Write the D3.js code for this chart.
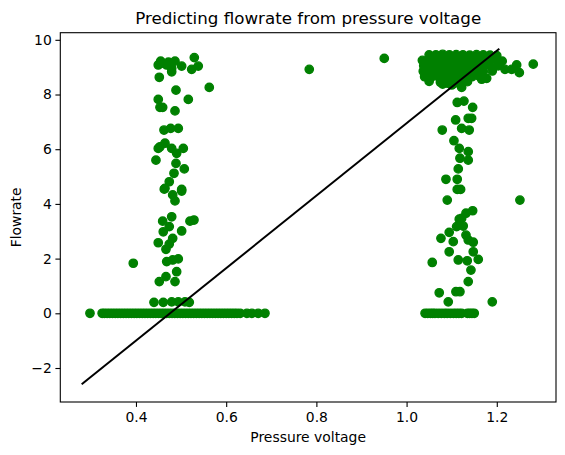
<!DOCTYPE html>
<html>
<head>
<meta charset="utf-8">
<script src="https://cdn.jsdelivr.net/npm/d3@7"></script>
<style>
  body { margin: 0; background: #fff; }
  text { font-family: "DejaVu Sans", sans-serif; fill: #000; }
</style>
</head>
<body>
<div id="chart"></div>
<script>
// flowrate = 0 rows, only the voltage varies
var leftBaselineX = [0.298, 0.325, 0.33, 0.336, 0.342, 0.348, 0.354, 0.36, 0.366, 0.372,
    0.378, 0.384, 0.39, 0.396, 0.402, 0.408, 0.414, 0.42, 0.426, 0.432, 0.438, 0.444,
    0.45, 0.456, 0.462, 0.468, 0.474, 0.48, 0.486, 0.492, 0.498, 0.504, 0.51, 0.516,
    0.522, 0.528, 0.534, 0.54, 0.546, 0.552, 0.558, 0.564, 0.57, 0.576, 0.582, 0.588,
    0.594, 0.60, 0.606, 0.612, 0.618, 0.624, 0.631, 0.646, 0.657, 0.671, 0.686];
var rightBaselineX = [1.041, 1.047, 1.053, 1.058, 1.063, 1.07, 1.077, 1.084, 1.09, 1.097,
    1.104, 1.11, 1.116, 1.122, 1.135, 1.14, 1.145, 1.15];

// [voltage, flowrate]
var leftColumn = [
    [0.4548, 9.22], [0.4494, 9.08], [0.4681, 9.08], [0.4865, 9.22], [0.4792, 8.96],
    [0.5013, 9.04], [0.5293, 9.35], [0.5381, 9.04], [0.5235, 8.92], [0.4517, 8.63],
    [0.4792, 8.83], [0.5625, 8.26], [0.4887, 8.16], [0.4494, 7.82], [0.5160, 7.82],
    [0.4532, 7.53], [0.4592, 7.53], [0.4865, 7.40], [0.4621, 6.70], [0.4769, 6.76],
    [0.4938, 6.76], [0.4532, 6.09], [0.4643, 6.22], [0.4494, 6.03], [0.4792, 6.03],
    [0.5049, 6.03], [0.4902, 5.85], [0.4443, 5.60], [0.4887, 5.48], [0.5071, 5.28],
    [0.4843, 5.12], [0.4738, 4.81], [0.4643, 4.57], [0.5013, 4.53], [0.4627, 4.54],
    [0.4814, 4.33], [0.5013, 4.47], [0.4865, 4.11], [0.4592, 3.37], [0.4792, 3.53],
    [0.4738, 3.17], [0.5197, 3.37], [0.5286, 3.41], [0.4605, 2.98], [0.5013, 3.01],
    [0.4814, 2.74], [0.4494, 2.58], [0.4738, 2.53], [0.4665, 2.34], [0.3940, 1.83],
    [0.4681, 1.89], [0.4814, 1.95], [0.4938, 1.99], [0.4902, 1.52], [0.4665, 1.34],
    [0.4517, 1.16], [0.4865, 1.16], [0.4399, 0.40], [0.4605, 0.40], [0.4792, 0.42],
    [0.4938, 0.42], [0.5086, 0.42], [0.5182, 0.40], [0.4580, 9.15], [0.4720, 9.18]
];
var rightColumn = [
    [1.1221, 8.26], [1.1123, 7.71], [1.1272, 7.76], [1.1465, 7.53], [1.1088, 7.07],
    [1.1367, 7.13], [1.1442, 7.13], [1.0791, 6.70], [1.1221, 6.76], [1.1389, 6.70],
    [1.1050, 6.31], [1.1168, 6.03], [1.1367, 5.91], [1.1183, 5.67], [1.1367, 5.60],
    [1.1146, 5.28], [1.0873, 4.90], [1.1123, 4.90], [1.1123, 4.53], [1.1198, 4.53],
    [1.0902, 4.14], [1.2513, 4.14], [1.1465, 3.75], [1.1317, 3.66], [1.1221, 3.47],
    [1.1168, 3.44], [1.1256, 3.19], [1.1109, 3.17], [1.0945, 2.96], [1.0762, 2.74],
    [1.1317, 2.86], [1.1035, 2.62], [1.1367, 2.68], [1.1478, 2.60], [1.0945, 2.25],
    [1.1478, 2.25], [1.1146, 1.95], [1.1345, 1.92], [1.1589, 1.97], [1.0569, 1.86],
    [1.1427, 1.58], [1.1367, 1.16], [1.0724, 0.75], [1.1094, 0.79], [1.1183, 0.79],
    [1.0924, 0.42], [1.1900, 0.42]
];
var rightCluster = [
    [1.05, 9.45], [1.065, 9.45], [1.08, 9.47], [1.095, 9.45], [1.11, 9.46], [1.125, 9.45],
    [1.14, 9.44], [1.155, 9.46], [1.17, 9.45], [1.185, 9.44], [1.20, 9.42],
    [1.035, 9.25], [1.05, 9.27], [1.065, 9.25], [1.08, 9.24], [1.095, 9.26], [1.11, 9.25],
    [1.125, 9.27], [1.14, 9.25], [1.155, 9.24], [1.17, 9.26], [1.185, 9.25], [1.20, 9.27],
    [1.212, 9.22],
    [1.038, 9.05], [1.052, 9.04], [1.068, 9.06], [1.083, 9.05], [1.097, 9.03], [1.112, 9.06],
    [1.128, 9.05], [1.143, 9.04], [1.158, 9.06], [1.172, 9.05], [1.188, 9.02], [1.203, 9.05],
    [1.037, 8.85], [1.05, 8.86], [1.066, 8.84], [1.08, 8.85], [1.095, 8.86], [1.11, 8.84],
    [1.125, 8.85], [1.14, 8.87], [1.155, 8.85], [1.17, 8.84], [1.19, 8.86],
    [1.04, 8.65], [1.055, 8.64], [1.07, 8.66], [1.085, 8.65], [1.10, 8.63], [1.115, 8.66],
    [1.13, 8.64], [1.145, 8.65], [1.16, 8.68],
    [1.05, 8.48], [1.075, 8.45], [1.09, 8.42], [1.105, 8.40], [1.12, 8.42], [1.135, 8.47],
    [1.08, 8.38], [1.10, 8.35], [1.1665, 8.56], [1.1776, 8.59],
    [1.2182, 8.92], [1.2330, 8.92], [1.2441, 9.08], [1.2500, 8.80], [1.2809, 9.11]
];
var outliers = [[0.7842, 8.92], [0.9505, 9.32]];

// fitted line endpoints
var fitX = [0.2796, 1.2056];
var fitY = [-2.596, 9.675];

var xTicks = [0.4, 0.6, 0.8, 1.0, 1.2];
var yTicks = [-2, 0, 2, 4, 6, 8, 10];

var width = 565, height = 455;
var margin = { top: 32.7, right: 9, bottom: 53, left: 60.3 };
var plotW = width - margin.left - margin.right;
var plotH = height - margin.top - margin.bottom;

var points = []
    .concat(leftBaselineX.map(function (x) { return [x, 0]; }))
    .concat(rightBaselineX.map(function (x) { return [x, 0]; }))
    .concat(leftColumn, rightColumn, rightCluster, outliers);

var x = d3.scaleLinear().domain([0.2322, 1.3313]).range([0, plotW]);
var y = d3.scaleLinear().domain([-3.243, 10.26]).range([plotH, 0]);

var svg = d3.select("#chart").append("svg")
    .attr("width", width)
    .attr("height", height);
svg.append("rect").attr("width", width).attr("height", height).attr("fill", "#fff");

var g = svg.append("g")
    .attr("transform", "translate(" + margin.left + "," + margin.top + ")");

// matplotlib-like marker: 6pt face plus 1pt edge in the same colour
g.selectAll(".dot")
    .data(points)
    .enter()
    .append("circle")
    .attr("class", "dot")
    .attr("cx", function (d) { return x(d[0]); })
    .attr("cy", function (d) { return y(d[1]); })
    .attr("r", 4.17)
    .attr("fill", "green")
    .attr("stroke", "green")
    .attr("stroke-width", 1.39);

var line = d3.line()
    .x(function (d) { return x(d[0]); })
    .y(function (d) { return y(d[1]); });
g.append("path")
    .datum(fitX.map(function (v, i) { return [v, fitY[i]]; }))
    .attr("d", line)
    .attr("fill", "none")
    .attr("stroke", "#000")
    .attr("stroke-width", 2);

var fmtMinus = function (v) { return String(v).replace("-", "\u2212"); };

var xAxis = g.append("g")
    .attr("transform", "translate(0," + plotH + ")")
    .call(d3.axisBottom(x).tickValues(xTicks).tickSize(4.9).tickPadding(5.5)
        .tickFormat(d3.format(".1f")));
var yAxis = g.append("g")
    .call(d3.axisLeft(y).tickValues(yTicks).tickSize(4.9).tickPadding(3.6)
        .tickFormat(fmtMinus));

[xAxis, yAxis].forEach(function (ax) {
    ax.select(".domain").remove();
    ax.selectAll("line").attr("stroke", "#000").attr("stroke-width", 1.1);
    ax.selectAll("text").style("font-size", "13.9px").attr("fill", "#000");
});

g.append("rect")
    .attr("width", plotW)
    .attr("height", plotH)
    .attr("fill", "none")
    .attr("stroke", "#000")
    .attr("stroke-width", 1.1);

svg.append("text")
    .attr("x", margin.left + plotW / 2)
    .attr("y", 24.4)
    .attr("text-anchor", "middle")
    .style("font-size", "16.7px")
    .text("Predicting flowrate from pressure voltage");

svg.append("text")
    .attr("x", margin.left + plotW / 2)
    .attr("y", 441.5)
    .attr("text-anchor", "middle")
    .style("font-size", "13.9px")
    .text("Pressure voltage");

svg.append("text")
    .attr("transform", "translate(21," + (margin.top + plotH / 2) + ") rotate(-90)")
    .attr("text-anchor", "middle")
    .style("font-size", "13.9px")
    .text("Flowrate");
</script>
</body>
</html>
